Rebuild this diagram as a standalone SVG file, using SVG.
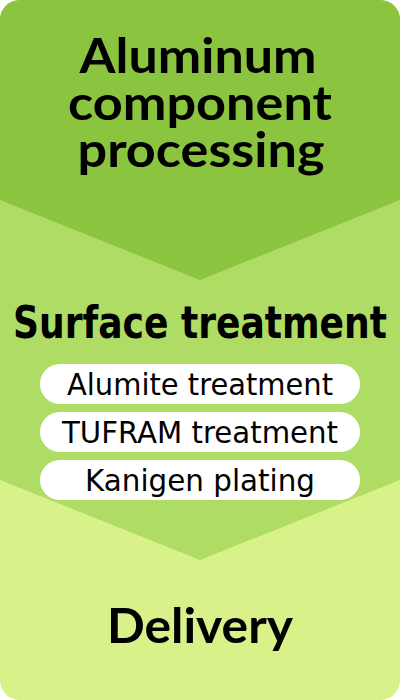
<svg xmlns="http://www.w3.org/2000/svg" width="400" height="700" viewBox="0 0 400 700">
<style>
.h{font-family:Lato,"Liberation Sans",sans-serif;font-weight:bold;font-size:48px;fill:#000;text-anchor:middle}
.s{font-family:"DejaVu Sans","Liberation Sans",sans-serif;font-weight:bold;font-size:44px;fill:#000;text-anchor:middle}
.p{font-family:"DejaVu Sans","Liberation Sans",sans-serif;font-size:30px;fill:#000;text-anchor:middle}
.pill{fill:#fff}
</style>
<defs>
<clipPath id="c"><rect x="0" y="0" width="400" height="700" rx="20" ry="20"/></clipPath>
</defs>
<g clip-path="url(#c)">
<g id="delivery">
<rect x="0" y="0" width="400" height="700" fill="#d8f289"/>
<text class="h" x="200" y="643" textLength="186" lengthAdjust="spacingAndGlyphs">Delivery</text>
</g>
<g id="surface">
<polygon points="0,0 400,0 400,480 200,560 0,480" fill="#afdc64"/>
<text class="s" x="200" y="338" textLength="374" lengthAdjust="spacingAndGlyphs">Surface treatment</text>
<rect class="pill" x="40" y="364" width="320" height="40" rx="20"/>
<text class="p" x="200" y="395" textLength="266" lengthAdjust="spacingAndGlyphs">Alumite treatment</text>
<rect class="pill" x="40" y="412" width="320" height="40" rx="20"/>
<text class="p" x="200" y="443" textLength="276" lengthAdjust="spacingAndGlyphs">TUFRAM treatment</text>
<rect class="pill" x="40" y="460" width="320" height="40" rx="20"/>
<text class="p" x="200" y="491" textLength="230" lengthAdjust="spacingAndGlyphs">Kanigen plating</text>
</g>
<g id="aluminum">
<polygon points="0,0 400,0 400,200 200,280 0,200" fill="#8bc53f"/>
<text class="h" x="198" y="73" textLength="237" lengthAdjust="spacingAndGlyphs">Aluminum</text>
<text class="h" x="200" y="120" textLength="264" lengthAdjust="spacingAndGlyphs">component</text>
<text class="h" x="201" y="167" textLength="247" lengthAdjust="spacingAndGlyphs">processing</text>
</g>
</g>
</svg>
